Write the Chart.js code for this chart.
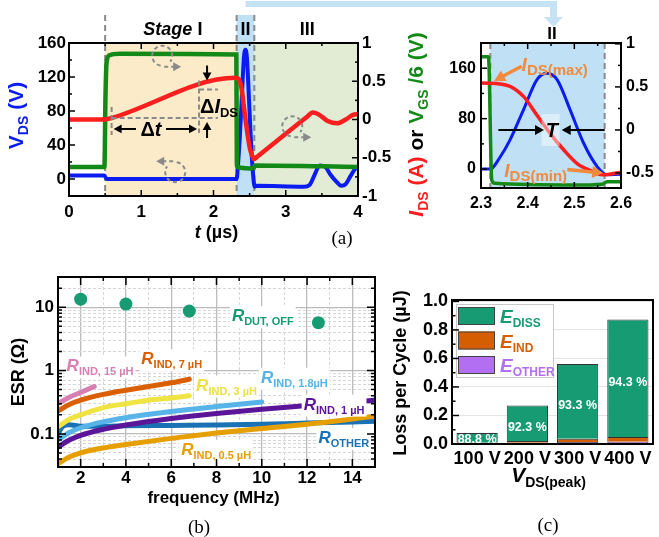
<!DOCTYPE html>
<html>
<head>
<meta charset="utf-8">
<script src="https://cdn.jsdelivr.net/npm/chart.js@4.4.1/dist/chart.umd.min.js"></script>
<style>
  body { margin: 0; background: #fff; }
  #page { position: relative; width: 659px; height: 537px; overflow: hidden; background: #fff; }
  canvas { position: absolute; }
</style>
</head>
<body>
<div id="page">
  <canvas id="waveform" width="659" height="260" style="left:0px;top:0px"></canvas>
  <canvas id="stage2" width="219" height="260" style="left:440px;top:0px"></canvas>
  <canvas id="esr" width="400" height="277" style="left:0px;top:260px"></canvas>
  <canvas id="loss" width="269" height="277" style="left:390px;top:260px"></canvas>
</div>
<script>
// ---- (a) switching waveforms ----
const T_TICKS = [0, 1, 2, 3, 4]
const VDS_TICKS = [0, 40, 80, 120, 160]
const RIGHT_TICKS = [-1, -0.5, 0, 0.5, 1]
const STAGE_EDGES = [0.5, 2.32, 2.565] // start of stage I, II, III (µs)

// V_DS in volts (left axis)
const VDS_T = [0, 0.49, 0.52, 2.3, 2.32, 2.34, 2.362, 2.391, 2.42, 2.441, 2.463, 2.491, 2.52, 2.549, 2.57, 2.6,
  3.25, 3.33, 3.4, 3.47, 3.55, 3.62, 3.7, 3.77, 3.83, 3.9, 3.96, 4]
const VDS_V = [4, 4, 0, 0, 0, 18, 46, 94, 142, 152, 142, 94, 41, 4, -9, -8,
  -9, -7, 5, 16, 14, 5, -3, -8, -6, 4, 12, 14]

// V_GS / 6 (right axis)
const VGS_T = [0, 0.49, 0.505, 0.52, 0.56, 0.7, 2.316, 2.323, 2.33, 2.5, 2.56, 2.57, 4]
const VGS_R = [-0.62, -0.62, 0.3, 0.75, 0.84, 0.86, 0.85, -0.58, -0.62, -0.64, -0.63, -0.6, -0.62]

// I_DS (right axis)
const IDS_T = [0, 0.5, 0.59, 2.3, 2.355, 2.391, 2.42, 2.448, 2.477, 2.506, 2.534, 2.56, 2.6,
  3.3, 3.37, 3.45, 3.58, 3.71, 3.83, 3.93, 4]
const IDS_R = [0, 0, 0.02, 0.545, 0.52, 0.39, 0.17, -0.04, -0.23, -0.39, -0.47, -0.52, -0.49,
  0.04, 0.09, 0.07, -0.02, -0.05, 0.0, 0.06, 0.07]

const ZOOM_T_TICKS = [2.3, 2.4, 2.5, 2.6]
const ZOOM_VDS_TICKS = [0, 80, 160]
const ZOOM_RIGHT_TICKS = [-0.5, 0, 0.5, 1]

// ---- (b) ESR vs frequency ----
const FREQ_TICKS = [2, 4, 6, 8, 10, 12, 14]
const ESR_TICKS = [0.1, 1, 10]
const DUT_FREQ = [2, 4, 6.8, 12.5]
const DUT_ESR = [13.4, 11.2, 8.7, 5.7]
const IND15_FREQ = [1, 1.5, 2, 2.6]
const IND15_ESR = [0.3, 0.38, 0.45, 0.56]
const IND7_FREQ = [1, 1.5, 2, 3, 4, 5, 6, 6.8]
const IND7_ESR = [0.23, 0.29, 0.34, 0.42, 0.49, 0.56, 0.64, 0.73]
const IND3_FREQ = [1, 1.5, 2, 3, 4, 5, 6, 6.8]
const IND3_ESR = [0.13, 0.17, 0.2, 0.26, 0.3, 0.34, 0.37, 0.4]
const IND18_FREQ = [1, 1.5, 2, 3, 4, 6, 8, 10]
const IND18_ESR = [0.08, 0.105, 0.125, 0.155, 0.18, 0.225, 0.27, 0.32]
const IND1_FREQ = [1, 1.5, 2, 3, 4, 6, 8, 10, 12, 15]
const IND1_ESR = [0.062, 0.08, 0.095, 0.118, 0.138, 0.175, 0.21, 0.245, 0.28, 0.34]
const OTHER_FREQ = [1, 1.2, 1.5, 2, 3, 4, 6, 8, 10, 12, 15]
const OTHER_ESR = [0.1, 0.13, 0.14, 0.132, 0.132, 0.134, 0.136, 0.138, 0.142, 0.148, 0.158]
const IND05_FREQ = [1, 1.5, 2, 3, 4, 6, 8, 10, 12, 15]
const IND05_ESR = [0.034, 0.043, 0.05, 0.06, 0.068, 0.085, 0.103, 0.122, 0.142, 0.19]

// ---- (c) loss per cycle ----
const VDS_PEAK = ['100 V', '200 V', '300 V', '400 V']
const E_DISS = [0.0684, 0.2492, 0.5234, 0.8232]
const E_IND = [0.0056, 0.012, 0.024, 0.034]
const E_OTHER = [0.003, 0.0088, 0.0136, 0.0158]
const LOSS_TICKS = [0, 0.2, 0.4, 0.6, 0.8, 1.0]

const SANS = '"Liberation Sans", Arial, sans-serif'
const SERIF = '"Liberation Serif", "Times New Roman", serif'
const font = (size, style = 'bold') => `${style} ${size}px ${SANS}`

const BLUE = '#0a1cf0'
const RED = '#fa1e1e'
const GREEN = '#138a17'
const GREY = '#8a8a8a'
const ORANGE_NOTE = '#f08a3e'

Chart.defaults.font.family = SANS
Chart.defaults.font.weight = 'bold'
Chart.defaults.color = '#000'
Chart.defaults.animation = false

const pts = (xs, ys) => xs.map((x, i) => ({ x, y: ys[i] }))
const fixedTicks = (values) => (scale) => { scale.ticks = values.map((value) => ({ value })) }
const fixSize = (size) => (scale) => {
  Object.assign(scale, size)
  scale.paddingLeft = scale.paddingRight = scale.paddingTop = scale.paddingBottom = 0
}
const part = (text, size, color = '#000', style = 'bold', dy = 0) => ({ text, font: font(size, style), color, dy })
const plain = (v) => String(v)

// Draws a run of mixed-style text (italic symbols, subscripts) from a baseline point
function richText(ctx, x, y, parts, { align = 'center', rotate = 0, bg = null } = {}) {
  ctx.save()
  ctx.translate(x, y)
  ctx.rotate(rotate)
  ctx.textBaseline = 'alphabetic'
  ctx.textAlign = 'left'
  let width = 0
  for (const p of parts) {
    ctx.font = p.font
    p.w = ctx.measureText(p.text).width
    width += p.w
  }
  let cx = align === 'left' ? 0 : align === 'right' ? -width : -width / 2
  if (bg) {
    ctx.fillStyle = bg
    ctx.fillRect(cx - 2, -15, width + 4, 22)
  }
  for (const p of parts) {
    ctx.font = p.font
    ctx.fillStyle = p.color
    ctx.fillText(p.text, cx, p.dy)
    cx += p.w
  }
  ctx.restore()
}

function arrow(ctx, x1, y1, x2, y2, color, width = 2, head = 8) {
  const ang = Math.atan2(y2 - y1, x2 - x1)
  const c = Math.cos(ang), s = Math.sin(ang)
  ctx.save()
  ctx.setLineDash([])
  ctx.strokeStyle = color
  ctx.fillStyle = color
  ctx.lineWidth = width
  ctx.beginPath()
  ctx.moveTo(x1, y1)
  ctx.lineTo(x2 - c * head * 0.8, y2 - s * head * 0.8)
  ctx.stroke()
  ctx.beginPath()
  ctx.moveTo(x2, y2)
  ctx.lineTo(x2 - head * c + head * 0.55 * s, y2 - head * s - head * 0.55 * c)
  ctx.lineTo(x2 - head * c - head * 0.55 * s, y2 - head * s + head * 0.55 * c)
  ctx.closePath()
  ctx.fill()
  ctx.restore()
}

// dashed loop with a small arrow telling which axis a trace belongs to
function axisLoop(ctx, cx, cy, r, dir) {
  ctx.save()
  ctx.strokeStyle = GREY
  ctx.fillStyle = GREY
  ctx.lineWidth = 2
  ctx.setLineDash([4, 3])
  ctx.beginPath()
  if (dir === 'right') ctx.arc(cx, cy, r, 0.55 * Math.PI, 2.2 * Math.PI)
  else ctx.arc(cx, cy, r, 1.55 * Math.PI, 3.2 * Math.PI)
  ctx.stroke()
  const sgn = dir === 'right' ? 1 : -1
  const ly = cy + sgn * (r + 1)
  const tip = cx + sgn * (r + 9)
  ctx.beginPath()
  ctx.moveTo(cx + sgn * 2, ly)
  ctx.lineTo(tip - sgn * 6, ly)
  ctx.stroke()
  ctx.setLineDash([])
  ctx.beginPath()
  ctx.moveTo(tip, ly)
  ctx.lineTo(tip - sgn * 8, ly - 4.5)
  ctx.lineTo(tip - sgn * 8, ly + 4.5)
  ctx.closePath()
  ctx.fill()
  ctx.restore()
}

// frame around the plot area plus inward tick marks on the chosen sides
function framed(spec) {
  return {
    id: 'frame',
    afterDatasetsDraw(chart) {
      const { ctx, chartArea: a } = chart
      ctx.save()
      ctx.setLineDash([])
      ctx.strokeStyle = '#000'
      ctx.lineWidth = 1.5
      for (const t of spec.ticks) {
        const sc = chart.scales[t.scale]
        const len = t.len || 6
        for (const [vals, l] of [[t.major, len], [t.minor || [], len / 2]]) {
          for (const v of vals) {
            const p = sc.getPixelForValue(v)
            ctx.beginPath()
            for (const side of t.sides) {
              if (side === 'bottom') { ctx.moveTo(p, a.bottom); ctx.lineTo(p, a.bottom - l) }
              if (side === 'top') { ctx.moveTo(p, a.top); ctx.lineTo(p, a.top + l) }
              if (side === 'left') { ctx.moveTo(a.left, p); ctx.lineTo(a.left + l, p) }
              if (side === 'right') { ctx.moveTo(a.right, p); ctx.lineTo(a.right - l, p) }
            }
            ctx.stroke()
          }
        }
      }
      ctx.lineWidth = spec.lineWidth || 2
      ctx.strokeRect(a.left, a.top, a.right - a.left, a.bottom - a.top)
      ctx.restore()
    }
  }
}

const steps = (from, to, step) => {
  const out = []
  for (let v = from; v <= to + 1e-9; v += step) out.push(Math.round(v * 1000) / 1000)
  return out
}

function interp(xs, ys, x) {
  for (let i = 1; i < xs.length; i++) {
    if (x <= xs[i]) return ys[i - 1] + (ys[i] - ys[i - 1]) * (x - xs[i - 1]) / (xs[i] - xs[i - 1])
  }
  return ys[ys.length - 1]
}

const traceDatasets = (width) => [
  { label: 'IDS', data: pts(IDS_T, IDS_R), yAxisID: 'y2', borderColor: RED, borderWidth: width, clip: 0 },
  { label: 'VGS/6', data: pts(VGS_T, VGS_R), yAxisID: 'y2', borderColor: GREEN, borderWidth: width, clip: 0 },
  { label: 'VDS', data: pts(VDS_T, VDS_V), yAxisID: 'y', borderColor: BLUE, borderWidth: width - 0.5, clip: 0 }
]

const baseOptions = {
  responsive: false,
  events: [],
  elements: { point: { radius: 0 }, line: { cubicInterpolationMode: 'monotone' } },
  plugins: { legend: { display: false }, tooltip: { enabled: false } }
}

const hiddenGrid = { display: false, drawTicks: false }

// ---------- (a) left: full switching cycle ----------
const waveformDeco = {
  id: 'waveformDeco',
  beforeDatasetsDraw(chart) {
    const { ctx, chartArea: a, scales: { x } } = chart
    const [s1, s2, s3] = STAGE_EDGES.map((t) => x.getPixelForValue(t))
    ctx.save()
    ctx.fillStyle = '#fcebc9'
    ctx.fillRect(s1, a.top, s2 - s1, a.bottom - a.top)
    ctx.fillStyle = '#bfe0f5'
    ctx.fillRect(s2, 15, s3 - s2, a.bottom - 15)
    ctx.fillStyle = '#e2ebd3'
    ctx.fillRect(s3, a.top, a.right - s3, a.bottom - a.top)
    ctx.strokeStyle = GREY
    ctx.lineWidth = 2
    ctx.setLineDash([6, 4])
    for (const s of [s1, s2, s3]) {
      ctx.beginPath()
      ctx.moveTo(s, 15)
      ctx.lineTo(s, a.bottom)
      ctx.stroke()
    }
    ctx.restore()
  },
  afterDatasetsDraw(chart) {
    const { ctx, chartArea: a, scales: { x, y, y2 } } = chart
    const [s1, s2, s3] = STAGE_EDGES.map((t) => x.getPixelForValue(t))

    // stage names
    richText(ctx, (s1 + s2) / 2 + 2, 35, [part('Stage', 18, '#000', 'italic bold'), part(' I', 18)])
    richText(ctx, (s2 + s3) / 2, 35, [part('II', 18)])
    richText(ctx, (s3 + a.right) / 2 + 1, 35, [part('III', 18)])

    // bracket leading to the stage II close-up
    ctx.save()
    ctx.fillStyle = '#c6e3f6'
    ctx.fillRect(s2 + 9, 1, 553 - s2 - 9, 6)
    ctx.fillRect(550, 1, 7, 17)
    ctx.beginPath()
    ctx.moveTo(544, 17)
    ctx.lineTo(563, 17)
    ctx.lineTo(553.5, 27)
    ctx.closePath()
    ctx.fill()
    ctx.restore()

    // slope construction for ΔI_DS / Δt
    const t0 = 0.59, t1 = 1.8, t2 = 2.06
    const x0 = x.getPixelForValue(t0), x1 = x.getPixelForValue(t1), x2 = x.getPixelForValue(t2)
    const y0 = y2.getPixelForValue(interp(IDS_T, IDS_R, t0))
    const y1 = y2.getPixelForValue(interp(IDS_T, IDS_R, t1))
    ctx.save()
    ctx.strokeStyle = GREY
    ctx.lineWidth = 2
    ctx.setLineDash([5, 3])
    ctx.beginPath()
    ctx.moveTo(x0, y0); ctx.lineTo(x2, y0)
    ctx.moveTo(x1, y1); ctx.lineTo(x2, y1)
    ctx.moveTo(x0, y0 - 11); ctx.lineTo(x0, y0 + 17)
    ctx.moveTo(x1, y1 - 9); ctx.lineTo(x1, y0 + 15)
    ctx.stroke()
    ctx.restore()
    const dtY = y0 + 11
    arrow(ctx, 136, dtY, x0 + 2, dtY, '#000', 2, 8)
    arrow(ctx, 166, dtY, x1 - 2, dtY, '#000', 2, 8)
    richText(ctx, 151, dtY + 7, [part('Δ', 20), part('t', 20, '#000', 'italic bold')])
    arrow(ctx, x1 + 8, y1 - 24, x1 + 8, y1 - 9, '#000', 2, 8)
    arrow(ctx, x1 + 8, y0 + 20, x1 + 8, y0 + 4, '#000', 2, 8)
    richText(ctx, x1 + 1, y1 + 23, [part('Δ', 20), part('I', 20, '#000', 'italic bold'), part('DS', 13, '#000', 'bold', 4)], { align: 'left' })

    // which axis each trace uses
    axisLoop(ctx, x.getPixelForValue(1.29), y.getPixelForValue(145), 10, 'right')
    axisLoop(ctx, x.getPixelForValue(1.47), y.getPixelForValue(8), 10, 'left')
    axisLoop(ctx, x.getPixelForValue(3.09), y.getPixelForValue(62), 10, 'right')

    // axis titles
    richText(ctx, 23, (a.top + a.bottom) / 2 - 4, [part('V', 21, BLUE), part('DS', 14, BLUE, 'bold', 5), part(' (V)', 21, BLUE)], { rotate: -Math.PI / 2 })
    richText(ctx, a.right + 65, (a.top + a.bottom) / 2 + 5, [
      part('I', 21, RED, 'italic bold'), part('DS', 14, RED, 'bold', 5), part(' (A) ', 21, RED),
      part('or ', 21), part('V', 21, GREEN), part('GS', 14, GREEN, 'bold', 5), part(' /6 (V)', 21, GREEN)
    ], { rotate: -Math.PI / 2 })
    richText(ctx, (a.left + a.right) / 2 + 3, 238, [part('t', 18, '#000', 'italic bold'), part(' (µs)', 18)])

    ctx.save()
    ctx.font = `19px ${SERIF}`
    ctx.fillStyle = '#000'
    ctx.textAlign = 'center'
    ctx.fillText('(a)', 342, 244)
    ctx.restore()
  }
}

new Chart(document.getElementById('waveform'), {
  type: 'line',
  data: { datasets: traceDatasets(4.5) },
  options: {
    ...baseOptions,
    layout: { padding: { top: 43, right: 219, left: 0, bottom: 0 } },
    scales: {
      x: {
        type: 'linear', min: 0, max: 4, grid: hiddenGrid, border: { display: false },
        ticks: { font: { size: 17 }, padding: 6, callback: plain },
        afterBuildTicks: fixedTicks(T_TICKS), afterFit: fixSize({ height: 64 })
      },
      y: {
        type: 'linear', position: 'left', min: -20, max: 160, grid: hiddenGrid, border: { display: false },
        ticks: { font: { size: 17 }, padding: 3, callback: plain },
        afterBuildTicks: fixedTicks(VDS_TICKS), afterFit: fixSize({ width: 69 })
      },
      y2: {
        type: 'linear', position: 'right', min: -1, max: 1, grid: hiddenGrid, border: { display: false },
        ticks: { font: { size: 17 }, padding: 4, callback: plain },
        afterBuildTicks: fixedTicks(RIGHT_TICKS), afterFit: fixSize({ width: 82 })
      }
    }
  },
  plugins: [waveformDeco, framed({
    ticks: [
      { scale: 'x', sides: ['bottom', 'top'], major: T_TICKS, minor: [0.5, 1.5, 2.5, 3.5], len: 6 },
      { scale: 'y', sides: ['left'], major: VDS_TICKS, minor: [-20, 20, 60, 100, 140], len: 6 },
      { scale: 'y2', sides: ['right'], major: RIGHT_TICKS, minor: [-0.75, -0.25, 0.25, 0.75], len: 6 }
    ]
  })]
})

// ---------- (a) right: close-up of stage II ----------
const stage2Deco = {
  id: 'stage2Deco',
  beforeDatasetsDraw(chart) {
    const { ctx, chartArea: a, scales: { x } } = chart
    const s2 = x.getPixelForValue(STAGE_EDGES[1]), s3 = x.getPixelForValue(STAGE_EDGES[2])
    ctx.save()
    ctx.fillStyle = '#bfe0f5'
    ctx.fillRect(s2, a.top, s3 - s2, a.bottom - a.top)
    ctx.strokeStyle = GREY
    ctx.lineWidth = 2
    ctx.setLineDash([6, 4])
    for (const s of [s2, s3]) {
      ctx.beginPath()
      ctx.moveTo(s, a.top)
      ctx.lineTo(s, a.bottom)
      ctx.stroke()
    }
    ctx.restore()
  },
  afterDatasetsDraw(chart) {
    const { ctx, chartArea: a, scales: { x, y2 } } = chart
    const px = (t) => x.getPixelForValue(t), py = (r) => y2.getPixelForValue(r)
    richText(ctx, (a.left + a.right) / 2 + 1, 39, [part('II', 17)])

    // period T between the stage edges
    const ty = py(0)
    ctx.save()
    ctx.fillStyle = 'rgba(255,255,255,0.45)'
    ctx.fillRect(px(2.447) - 8, ty - 16, 18, 32)
    ctx.restore()
    arrow(ctx, px(STAGE_EDGES[1]) + 8, ty, px(2.435), ty, '#000', 2, 9)
    arrow(ctx, px(STAGE_EDGES[2]), ty, px(2.473), ty, '#000', 2, 9)
    richText(ctx, px(2.452), ty + 7, [part('T', 20, '#000', 'italic bold')])

    arrow(ctx, px(2.387), py(0.74), px(2.328), py(0.57), ORANGE_NOTE, 3.5, 11)
    richText(ctx, px(2.387), py(0.69), [part('I', 19, ORANGE_NOTE, 'italic bold'), part('DS(max)', 15, ORANGE_NOTE, 'bold', 4)], { align: 'left' })
    richText(ctx, px(2.35), py(-0.55), [part('I', 19, ORANGE_NOTE, 'italic bold'), part('DS(min)', 15, ORANGE_NOTE, 'bold', 4)], { align: 'left' })
    arrow(ctx, px(2.485), py(-0.46), px(2.562), py(-0.5), ORANGE_NOTE, 3.5, 11)
  }
}

new Chart(document.getElementById('stage2'), {
  type: 'line',
  data: { datasets: traceDatasets(3.5) },
  options: {
    ...baseOptions,
    layout: { padding: { top: 43, right: 0, left: 0, bottom: 0 } },
    scales: {
      x: {
        type: 'linear', min: 2.3, max: 2.6, grid: hiddenGrid, border: { display: false },
        ticks: { font: { size: 16 }, padding: 6, callback: (v) => v.toFixed(1) },
        afterBuildTicks: fixedTicks(ZOOM_T_TICKS), afterFit: fixSize({ height: 72 })
      },
      y: {
        type: 'linear', position: 'left', min: -30, max: 200, grid: hiddenGrid, border: { display: false },
        ticks: { font: { size: 16 }, padding: 5, callback: plain },
        afterBuildTicks: fixedTicks(ZOOM_VDS_TICKS), afterFit: fixSize({ width: 41 })
      },
      y2: {
        type: 'linear', position: 'right', min: -0.674, max: 1.01, grid: hiddenGrid, border: { display: false },
        ticks: { font: { size: 16 }, padding: 5, callback: plain },
        afterBuildTicks: fixedTicks(ZOOM_RIGHT_TICKS), afterFit: fixSize({ width: 38 })
      }
    }
  },
  plugins: [stage2Deco, framed({
    ticks: [
      { scale: 'x', sides: ['bottom', 'top'], major: ZOOM_T_TICKS, minor: [2.35, 2.45, 2.55], len: 6 },
      { scale: 'y', sides: ['left'], major: ZOOM_VDS_TICKS, minor: [40, 120], len: 6 },
      { scale: 'y2', sides: ['right'], major: ZOOM_RIGHT_TICKS, minor: [-0.25, 0.25, 0.75], len: 6 }
    ]
  })]
})

// ---------- (b) equivalent series resistance ----------
const ESR_GRID = []
for (const decade of [0.01, 0.1, 1, 10]) {
  for (let k = 1; k <= 9; k++) {
    const v = Math.round(k * decade * 1000) / 1000
    if (v >= 0.03 && v <= 30) ESR_GRID.push(v)
  }
}
const isDecade = (v) => ESR_TICKS.some((t) => Math.abs(t - v) < 1e-9)
const FREQ_GRID = steps(1, 15, 1)

const esrLabels = [
  { f: 8.68, r: 7.2, sub: 'DUT, OFF', color: '#169b73' },
  { f: 1.38, r: 1.16, sub: 'IND, 15 µH', color: '#d77fb3' },
  { f: 4.68, r: 1.5, sub: 'IND, 7 µH', color: '#d95f02' },
  { f: 7.1, r: 0.58, sub: 'IND, 3 µH', color: '#ede040' },
  { f: 9.96, r: 0.77, sub: 'IND, 1.8µH', color: '#56b4e9' },
  { f: 11.85, r: 0.29, sub: 'IND, 1 µH', color: '#5a1598' },
  { f: 12.5, r: 0.086, sub: 'OTHER', color: '#1a72b4' },
  { f: 6.44, r: 0.056, sub: 'IND, 0.5 µH', color: '#e69f00' }
]

const esrDeco = {
  id: 'esrDeco',
  afterDatasetsDraw(chart) {
    const { ctx, chartArea: a, scales: { x, y } } = chart
    for (const l of esrLabels) {
      richText(ctx, x.getPixelForValue(l.f), y.getPixelForValue(l.r) + 5,
        [part('R', 17, l.color, 'italic bold'), part(l.sub, 11, l.color, 'bold', 4)],
        { align: 'left', bg: '#fff' })
    }
    richText(ctx, 24, (a.top + a.bottom) / 2, [part('ESR (Ω)', 18)], { rotate: -Math.PI / 2 })
    richText(ctx, (a.left + a.right) / 2 - 3, 243, [part('frequency (MHz)', 17)])
    ctx.save()
    ctx.font = `19px ${SERIF}`
    ctx.fillStyle = '#000'
    ctx.textAlign = 'center'
    ctx.fillText('(b)', 199, 273)
    ctx.restore()
  }
}

const curve = (label, fx, ry, color) => ({
  label, data: pts(fx, ry), borderColor: color, borderWidth: 5, borderCapStyle: 'round', clip: 0
})

new Chart(document.getElementById('esr'), {
  type: 'line',
  data: {
    datasets: [
      { label: 'R DUT,OFF', data: pts(DUT_FREQ, DUT_ESR), showLine: false, pointRadius: 6.5,
        pointBackgroundColor: '#169b73', pointBorderWidth: 0 },
      curve('R IND 15uH', IND15_FREQ, IND15_ESR, '#d77fb3'),
      curve('R IND 7uH', IND7_FREQ, IND7_ESR, '#d95f02'),
      curve('R IND 3uH', IND3_FREQ, IND3_ESR, '#f0e442'),
      curve('R IND 0.5uH', IND05_FREQ, IND05_ESR, '#e69f00'),
      curve('R IND 1uH', IND1_FREQ, IND1_ESR, '#5a1598'),
      curve('R IND 1.8uH', IND18_FREQ, IND18_ESR, '#56b4e9'),
      curve('R OTHER', OTHER_FREQ, OTHER_ESR, '#1a72b4')
    ]
  },
  options: {
    ...baseOptions,
    layout: { padding: { top: 17, right: 25, left: 0, bottom: 0 } },
    scales: {
      x: {
        type: 'linear', min: 1, max: 15,
        border: { display: false, dash: (c) => (c.tick && c.tick.value % 2 === 0 ? [] : [3, 2]) },
        grid: {
          drawTicks: false,
          color: (c) => (c.tick && c.tick.value % 2 === 0 ? '#bcbcbc' : '#d6d6d6'),
          lineWidth: (c) => (c.tick && c.tick.value % 2 === 0 ? 1.3 : 1)
        },
        ticks: { font: { size: 17 }, padding: 1, autoSkip: false, maxRotation: 0,
          callback: (v) => (FREQ_TICKS.includes(v) ? String(v) : '') },
        afterBuildTicks: fixedTicks(FREQ_GRID), afterFit: fixSize({ height: 70 })
      },
      y: {
        type: 'logarithmic', min: 0.03, max: 30,
        border: { display: false, dash: (c) => (c.tick && isDecade(c.tick.value) ? [] : [3, 2]) },
        grid: {
          drawTicks: false,
          color: (c) => (c.tick && isDecade(c.tick.value) ? '#bcbcbc' : '#d6d6d6'),
          lineWidth: (c) => (c.tick && isDecade(c.tick.value) ? 1.3 : 1)
        },
        ticks: { font: { size: 17 }, padding: 4, autoSkip: false,
          callback: (v) => (isDecade(v) ? String(v) : '') },
        afterBuildTicks: fixedTicks(ESR_GRID), afterFit: fixSize({ width: 58 })
      }
    }
  },
  plugins: [esrDeco, framed({
    lineWidth: 2,
    ticks: [
      { scale: 'x', sides: ['bottom', 'top'], major: FREQ_TICKS, minor: [3, 5, 7, 9, 11, 13], len: 8 },
      { scale: 'y', sides: ['left', 'right'], major: ESR_TICKS, minor: ESR_GRID.filter((v) => !isDecade(v)), len: 8 }
    ]
  })]
})

// ---------- (c) loss per cycle ----------
const lossDeco = {
  id: 'lossDeco',
  afterDatasetsDraw(chart) {
    const { ctx, chartArea: a } = chart
    const diss = chart.getDatasetMeta(2).data
    ctx.save()
    ctx.font = font(12.5)
    ctx.fillStyle = '#fff'
    ctx.textAlign = 'center'
    ctx.textBaseline = 'middle'
    diss.forEach((bar, i) => {
      const total = E_DISS[i] + E_IND[i] + E_OTHER[i]
      const pct = (E_DISS[i] / total * 100).toFixed(1) + ' %'
      const yMid = i === 0 ? (bar.y + a.bottom) / 2 + 1 : (bar.y + bar.base) / 2 + 4
      ctx.fillText(pct, bar.x, yMid)
    })
    ctx.restore()

    // legend with subscripted energy names
    const lx = a.left + 4, ly = a.top + 4
    ctx.save()
    ctx.fillStyle = '#fff'
    ctx.fillRect(lx, ly, 97, 73)
    ctx.strokeStyle = '#c8c8c8'
    ctx.lineWidth = 1
    ctx.strokeRect(lx + 0.5, ly + 0.5, 97, 73)
    const items = [
      ['DISS', '#169b73', '#169b73'],
      ['IND', '#d55e00', '#d55e00'],
      ['OTHER', '#b26ff2', '#b26ff2']
    ]
    items.forEach(([sub, fill, text], i) => {
      const top = ly + 3 + i * 24.5
      ctx.fillStyle = fill
      ctx.fillRect(lx + 2, top, 37, 18)
      ctx.strokeStyle = '#444'
      ctx.strokeRect(lx + 2.5, top + 0.5, 36, 17)
      richText(ctx, lx + 44, top + 16, [part('E', 19, text, 'italic bold'), part(sub, 12, text, 'bold', 4)], { align: 'left' })
    })
    ctx.restore()

    richText(ctx, 16, (a.top + a.bottom) / 2 + 1, [part('Loss per Cycle (µJ)', 18)], { rotate: -Math.PI / 2 })
    richText(ctx, (a.left + a.right) / 2 - 4, 222, [part('V', 21, '#000', 'italic bold'), part('DS(peak)', 14, '#000', 'bold', 5)])
    ctx.save()
    ctx.font = `19px ${SERIF}`
    ctx.fillStyle = '#000'
    ctx.textAlign = 'center'
    ctx.fillText('(c)', 158, 271)
    ctx.restore()
  }
}

const stackBar = (label, data, color) => ({
  label, data, backgroundColor: color, borderColor: '#333', borderWidth: 1,
  barPercentage: 0.82, categoryPercentage: 1
})

new Chart(document.getElementById('loss'), {
  type: 'bar',
  data: {
    labels: VDS_PEAK,
    datasets: [
      stackBar('E OTHER', E_OTHER, '#b26ff2'),
      stackBar('E IND', E_IND, '#d55e00'),
      stackBar('E DISS', E_DISS, '#169b73')
    ]
  },
  options: {
    ...baseOptions,
    layout: { padding: { top: 40, right: 6, left: 0, bottom: 0 } },
    scales: {
      x: {
        stacked: true, grid: hiddenGrid, border: { display: false },
        ticks: { font: { size: 18 }, padding: 4, maxRotation: 0, autoSkip: false },
        afterFit: fixSize({ height: 93 })
      },
      y: {
        stacked: true, min: 0, max: 1.01, border: { display: false },
        grid: { drawTicks: false, color: '#e4e4e4', lineWidth: 1 },
        ticks: { font: { size: 18 }, padding: 4, callback: (v) => v.toFixed(1) },
        afterBuildTicks: fixedTicks(LOSS_TICKS), afterFit: fixSize({ width: 62 })
      }
    }
  },
  plugins: [lossDeco, framed({
    lineWidth: 2,
    ticks: [
      { scale: 'y', sides: ['left'], major: LOSS_TICKS, minor: [0.1, 0.3, 0.5, 0.7, 0.9], len: 7 }
    ]
  })]
})
</script>
</body>
</html>
